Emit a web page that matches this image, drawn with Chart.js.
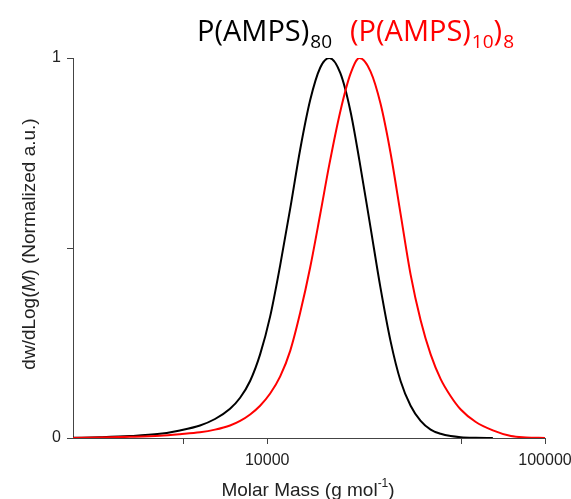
<!DOCTYPE html>
<html>
<head>
<meta charset="utf-8">
<script src="https://cdn.jsdelivr.net/npm/chart.js@4.4.1/dist/chart.umd.min.js"></script>
<style>
  html, body { margin: 0; padding: 0; background: #fff; }
  #wrap { width: 571px; height: 499px; position: relative; }
</style>
</head>
<body>
<div id="wrap"><canvas id="gpcChart" width="571" height="499"></canvas></div>
<script>
// molar mass samples (g/mol) and normalised dw/dlogM
const massValues = [2000, 2490, 3200, 4110, 4850, 5730, 6490, 7350, 7990, 8680, 9430, 10250,
    11140, 12110, 13150, 14290, 15530, 16740, 18340, 19940, 21480, 23540, 25580, 27800,
    30210, 32830, 35670, 38760, 42120, 45770, 49740, 56360, 64920, 75400, 85400, 100000];
const p80Values = [0.0005, 0.002, 0.005, 0.011, 0.02, 0.033, 0.05, 0.077, 0.106, 0.15, 0.22, 0.32,
    0.455, 0.605, 0.76, 0.89, 0.975, 1.0, 0.96, 0.86, 0.73, 0.555, 0.395, 0.255,
    0.15, 0.085, 0.045, 0.022, 0.011, 0.005, 0.002, 0.0005, 0, null, null, null];
const p10x8Values = [0.0003, 0.001, 0.003, 0.006, 0.01, 0.015, 0.022, 0.033, 0.045, 0.062, 0.085, 0.117,
    0.162, 0.23, 0.33, 0.45, 0.59, 0.72, 0.86, 0.958, 1.0, 0.965, 0.88, 0.75,
    0.59, 0.43, 0.31, 0.22, 0.155, 0.11, 0.075, 0.042, 0.02, 0.005, 0.0015, 0];

const xTickValues = [5000, 10000, 50000, 100000];
const xTickLabels = ['', '10000', '', '100000'];
const yTickValues = [0, 0.5, 1];
const yTickLabels = ['0', '', '1'];

const axisColor = '#444';
const labelFont = '"Liberation Sans", Arial, sans-serif';

function toPoints(vals) {
    return massValues.map((m, i) => ({ x: m, y: vals[i] }));
}

// title with subscripts, and axis titles with italic / superscript parts
const textPlugin = {
    id: 'textPlugin',
    afterDraw(chart) {
        const ctx = chart.ctx;
        ctx.save();
        ctx.textBaseline = 'alphabetic';
        ctx.textAlign = 'left';

        const big = '29px "Open Sans", sans-serif';
        const small = '19px "Open Sans", sans-serif';
        // black label
        let x = 197;
        ctx.fillStyle = '#000';
        ctx.font = big; ctx.fillText('P(AMPS)', x, 41); x += ctx.measureText('P(AMPS)').width + 1;
        ctx.font = small; ctx.fillText('80', x, 48);
        // red label
        x = 350;
        ctx.fillStyle = '#ff0000';
        ctx.font = big; ctx.fillText('(P(AMPS)', x, 41); x += ctx.measureText('(P(AMPS)').width + 1;
        ctx.font = small; ctx.fillText('10', x, 48); x += ctx.measureText('10').width;
        ctx.font = big; ctx.fillText(')', x, 41); x += ctx.measureText(')').width + 1;
        ctx.font = small; ctx.fillText('8', x, 48);

        // y axis title
        ctx.fillStyle = '#222';
        const yParts = [
            ['dw/dLog(', '19px ' + labelFont],
            ['M', 'italic 19px ' + labelFont],
            [') (Normalized a.u.)', '19px ' + labelFont]
        ];
        let total = 0;
        yParts.forEach(p => { ctx.font = p[1]; total += ctx.measureText(p[0]).width; });
        ctx.translate(35, 244);
        ctx.rotate(-Math.PI / 2);
        let px = -total / 2;
        yParts.forEach(p => { ctx.font = p[1]; ctx.fillText(p[0], px, 0); px += ctx.measureText(p[0]).width; });
        ctx.setTransform(1, 0, 0, 1, 0, 0);

        // x axis title
        const main = 'Molar Mass (g mol';
        ctx.font = '19px ' + labelFont;
        const w1 = ctx.measureText(main).width;
        ctx.font = '12px ' + labelFont;
        const w2 = ctx.measureText('-1').width;
        ctx.font = '19px ' + labelFont;
        const w3 = ctx.measureText(')').width;
        let sx = 308 - (w1 + w2 + w3) / 2;
        ctx.fillText(main, sx, 496); sx += w1;
        ctx.font = '12px ' + labelFont; ctx.fillText('-1', sx, 487); sx += w2;
        ctx.font = '19px ' + labelFont; ctx.fillText(')', sx, 496);
        ctx.restore();
    }
};

new Chart(document.getElementById('gpcChart'), {
    type: 'line',
    data: {
        datasets: [{
            label: '(P(AMPS)10)8',
            data: toPoints(p10x8Values),
            borderColor: '#ff0000',
            borderWidth: 2,
            pointRadius: 0,
            cubicInterpolationMode: 'monotone',
            fill: false
        }, {
            label: 'P(AMPS)80',
            data: toPoints(p80Values),
            borderColor: '#000000',
            borderWidth: 2,
            pointRadius: 0,
            cubicInterpolationMode: 'monotone',
            spanGaps: false,
            fill: false
        }]
    },
    options: {
        responsive: false,
        animation: false,
        layout: { padding: { top: 58, right: 26, left: 40, bottom: 28 } },
        plugins: { legend: { display: false }, tooltip: { enabled: false } },
        scales: {
            x: {
                type: 'logarithmic',
                min: 2000,
                max: 100000,
                afterBuildTicks: s => { s.ticks = xTickValues.map(v => ({ value: v })); },
                afterFit: s => { s.height = 33; s.paddingLeft = 0; s.paddingRight = 0; },
                ticks: {
                    autoSkip: false,
                    maxRotation: 0,
                    padding: 7,
                    color: '#222',
                    font: { family: labelFont, size: 16 },
                    callback: (v) => xTickLabels[xTickValues.indexOf(v)] ?? ''
                },
                grid: { drawOnChartArea: false, tickLength: 6, color: axisColor },
                border: { display: true, color: axisColor, width: 1 }
            },
            y: {
                min: 0,
                max: 1,
                afterBuildTicks: s => { s.ticks = yTickValues.map(v => ({ value: v })); },
                afterFit: s => { s.width = 33; s.paddingTop = 0; s.paddingBottom = 0; },
                ticks: {
                    padding: 6,
                    color: '#222',
                    font: { family: labelFont, size: 16 },
                    callback: (v) => yTickLabels[yTickValues.indexOf(v)] ?? ''
                },
                grid: { drawOnChartArea: false, tickLength: 6, color: axisColor },
                border: { display: true, color: axisColor, width: 1 }
            }
        }
    },
    plugins: [textPlugin]
});
</script>
</body>
</html>
